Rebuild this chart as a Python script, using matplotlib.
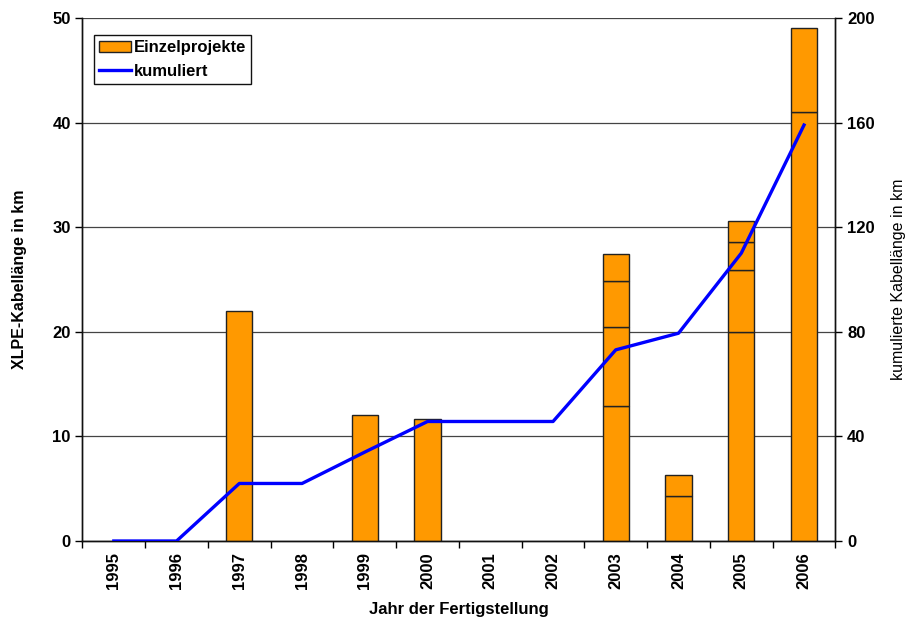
import numpy as np
import matplotlib
matplotlib.use("Agg")
import matplotlib.pyplot as plt
from matplotlib.lines import Line2D
from matplotlib.patches import Patch

plt.rcParams['font.family'] = ['Liberation Sans', 'DejaVu Sans']

years = ['1995', '1996', '1997', '1998', '1999', '2000',
         '2001', '2002', '2003', '2004', '2005', '2006']

# Individual projects per year, stacked (km)
proj_a = [0, 0, 22.0, 0, 12.0, 11.7, 0, 0, 12.9, 4.35, 20.0, 41.0]
proj_b = [0, 0, 0, 0, 0, 0, 0, 0, 7.55, 2.0, 5.9, 8.0]
proj_c = [0, 0, 0, 0, 0, 0, 0, 0, 4.45, 0, 2.7, 0]
proj_d = [0, 0, 0, 0, 0, 0, 0, 0, 2.5, 0, 2.0, 0]

layers = [proj_a, proj_b, proj_c, proj_d]
totals = np.sum(np.array(layers), axis=0)
cumulative = np.cumsum(totals)

fig = plt.figure(figsize=(9.11, 6.19), dpi=100)
ax = fig.add_axes([0.0905, 0.126, 0.8265, 0.845])
ax2 = ax.twinx()

x = np.arange(len(years))
bottom = np.zeros(len(years))
for layer in layers:
    vals = np.array(layer, dtype=float)
    m = vals > 0
    ax.bar(x[m], vals[m], width=0.42, bottom=bottom[m], color='#FF9900',
           edgecolor='#222222', linewidth=1.0, zorder=3)
    bottom += vals

ax2.plot(x, cumulative, color='#0000FF', linewidth=2.4, zorder=4)

ax.set_xlim(-0.5, len(years) - 0.5)
ax.set_ylim(0, 50)
ax2.set_ylim(0, 200)
ax.set_yticks(np.arange(0, 51, 10))
ax2.set_yticks(np.arange(0, 201, 40))

ax.grid(axis='y', color='#444444', linewidth=0.9, zorder=0)
ax.set_axisbelow(True)

# category boundaries get the tick marks, labels sit at the centres
ax.set_xticks(np.arange(-0.5, len(years), 1.0))
ax.set_xticklabels([])
ax.set_xticks(x, minor=True)
ax.set_xticklabels(years, minor=True, rotation=90, fontsize=12,
                   fontweight='bold')
ax.tick_params(axis='x', which='minor', length=0, pad=8)
ax.tick_params(axis='x', which='major', length=5, width=1, direction='out')

for a in (ax, ax2):
    a.spines['top'].set_visible(False)
    for s in a.spines.values():
        s.set_color('#111111')
        s.set_linewidth(1.0)
ax.tick_params(axis='y', length=5, width=1, labelsize=12)
ax2.tick_params(axis='y', length=5, width=1, labelsize=12)
for lbl in ax.get_yticklabels() + ax2.get_yticklabels():
    lbl.set_fontweight('bold')

ax.set_ylabel('XLPE-Kabellänge in km', fontsize=11.5, fontweight='bold',
              labelpad=18)
ax2.set_ylabel('kumulierte Kabellänge in km', fontsize=11.5, labelpad=12)
ax.set_xlabel('Jahr der Fertigstellung', fontsize=12, fontweight='bold',
              labelpad=9)

handles = [Patch(facecolor='#FF9900', edgecolor='#222222', linewidth=1.0),
           Line2D([0], [0], color='#0000FF', linewidth=2.4)]
leg = ax2.legend(handles, ['Einzelprojekte', 'kumuliert'],
                 loc='upper left', bbox_to_anchor=(0.0155, 0.967),
                 prop={'weight': 'bold', 'size': 12}, frameon=True,
                 fancybox=False, edgecolor='#111111', framealpha=1,
                 borderpad=0.3, handlelength=1.9, handletextpad=0.2,
                 labelspacing=0.5, borderaxespad=0)
leg.get_frame().set_linewidth(1.0)

fig.savefig('out.png', dpi=100)
